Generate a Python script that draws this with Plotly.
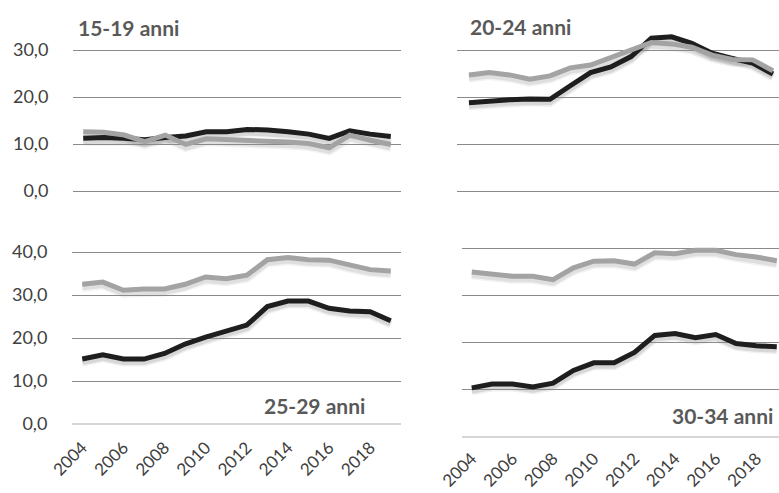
import plotly.graph_objects as go

W, H = 779, 493

years = list(range(2004, 2020))

# Valori (%) per classe d'età: serie scura e serie chiara
y15_19_dark = [11.2, 11.4, 11.2, 10.9, 11.4, 11.7, 12.6, 12.6, 13.1, 13.0, 12.6, 12.1, 11.2, 12.8, 12.1, 11.6]
y15_19_light = [12.6, 12.5, 11.9, 10.5, 11.9, 9.9, 11.1, 11.0, 10.8, 10.6, 10.4, 10.1, 9.2, 11.9, 10.8, 9.9]

y20_24_dark = [18.8, 19.2, 19.4, 19.6, 19.5, 22.4, 25.2, 26.4, 28.6, 32.5, 32.8, 31.4, 29.3, 28.2, 27.2, 24.9]
y20_24_light = [24.7, 25.2, 24.7, 23.8, 24.5, 26.2, 26.8, 28.4, 30.0, 31.6, 31.3, 30.6, 28.9, 28.0, 27.9, 25.6]

y25_29_dark = [15.1, 16.1, 15.1, 15.1, 16.4, 18.6, 20.2, 21.5, 23.0, 27.3, 28.6, 28.6, 26.9, 26.3, 26.1, 24.0]
y25_29_light = [32.5, 33.0, 31.1, 31.4, 31.4, 32.5, 34.2, 33.8, 34.6, 38.2, 38.7, 38.2, 38.1, 36.9, 35.9, 35.6]

y30_34_dark = [10.4, 11.2, 11.2, 10.6, 11.4, 14.1, 15.7, 15.7, 17.9, 21.5, 21.9, 21.0, 21.7, 19.8, 19.3, 19.1]
y30_34_light = [34.9, 34.4, 34.0, 34.0, 33.3, 35.8, 37.2, 37.3, 36.6, 39.0, 38.8, 39.5, 39.5, 38.6, 38.1, 37.3]

titles = ["15-19 anni", "20-24 anni", "25-29 anni", "30-34 anni"]

DARK = "#1e1e1e"
LIGHT = "#a3a3a3"
GRID = "#8a8a8a"
TXT = "#404040"
TITLE = "#595959"
FONT = "Lato, 'Open Sans', sans-serif"


def fx(px):
    return px / W


def fy(px):
    return 1 - px / H


# panel geometry in pixels: x0, x1, y of the top tick, y of zero, top tick value,
# headroom above the top tick (value units), x range, gap before the year labels
panels = [
    dict(dark=y15_19_dark, light=y15_19_light, x0=73, x1=401, yt=50, yb=191, ytop=30, extra=5,
         xr=[2003.5, 2019.5], labels_y=True, labels_x=False, xgap=6),
    dict(dark=y20_24_dark, light=y20_24_light, x0=457, x1=779, yt=50, yb=191, ytop=30, extra=5,
         xr=[2003.41, 2019.3], labels_y=False, labels_x=False, xgap=6),
    dict(dark=y25_29_dark, light=y25_29_light, x0=72, x1=401, yt=252, yb=424, ytop=40, extra=2,
         xr=[2003.5, 2019.5], labels_y=True, labels_x=True, xgap=6),
    dict(dark=y30_34_dark, light=y30_34_light, x0=462, x1=779, yt=248, yb=437, ytop=40, extra=2,
         xr=[2003.52, 2019.11], labels_y=False, labels_x=True, xgap=4),
]

fig = go.Figure()
layout = {}
SHADOW_DY = 3  # px

# shadow subplots first (axes 1-4), main subplots after (axes 5-8)
for i, p in enumerate(panels):
    pxu = (p["yb"] - p["yt"]) / p["ytop"]          # pixels per value unit
    top_px = p["yt"] - p["extra"] * pxu
    for kind in ("shadow", "main"):
        n = i + 1 if kind == "shadow" else i + 5
        xa = "xaxis" if n == 1 else f"xaxis{n}"
        ya = "yaxis" if n == 1 else f"yaxis{n}"
        xr_ = "x" if n == 1 else f"x{n}"
        yr_ = "y" if n == 1 else f"y{n}"
        dy = SHADOW_DY if kind == "shadow" else 0
        layout[xa] = dict(domain=[fx(p["x0"]), fx(p["x1"])], range=p["xr"], anchor=yr_,
                          showgrid=False, zeroline=False, showline=False, fixedrange=True,
                          automargin=False)
        layout[ya] = dict(domain=[fy(p["yb"] + dy), fy(top_px + dy)],
                          range=[0, p["ytop"] + p["extra"]], anchor=xr_, fixedrange=True,
                          automargin=False)
        if kind == "shadow":
            layout[xa].update(visible=False)
            layout[ya].update(visible=False)
            for vals, w, a in ((p["dark"], 9, 0.06), (p["dark"], 6, 0.10),
                               (p["light"], 9, 0.05), (p["light"], 6, 0.08)):
                fig.add_trace(go.Scatter(x=years, y=vals, xaxis=xr_, yaxis=yr_, mode="lines",
                                         line=dict(color=f"rgba(0,0,0,{a})", width=w),
                                         hoverinfo="skip", showlegend=False))
        else:
            bottom = i >= 2
            layout[ya].update(
                tickvals=list(range(0, p["ytop"] + 1, 10)), tickformat=".1f",
                showgrid=True, gridcolor=GRID, gridwidth=1, zeroline=True,
                zerolinecolor="#d6d6d6" if bottom else GRID,
                zerolinewidth=2 if bottom else 1,
                showticklabels=p["labels_y"], ticks="outside" if p["labels_y"] else "",
                ticklen=20, tickcolor="rgba(0,0,0,0)",
                tickfont=dict(family=FONT, size=18, color=TXT),
            )
            layout[xa].update(
                tick0=2004, dtick=2, tickangle=-45,
                showticklabels=p["labels_x"], ticks="outside" if p["labels_x"] else "",
                ticklen=p["xgap"], tickcolor="rgba(0,0,0,0)",
                tickfont=dict(family=FONT, size=17, color=TXT),
            )
            fig.add_trace(go.Scatter(x=years, y=p["dark"], xaxis=xr_, yaxis=yr_, mode="lines",
                                     line=dict(color=DARK, width=5), showlegend=False))
            fig.add_trace(go.Scatter(x=years, y=p["light"], xaxis=xr_, yaxis=yr_, mode="lines",
                                     line=dict(color=LIGHT, width=5), showlegend=False))

# panel titles
title_pos = [(76, 28), (468, 26), (262, 405), (670, 415)]
annotations = []
for t, (x, y) in zip(titles, title_pos):
    annotations.append(dict(text=f"<b>{t}</b>", x=fx(x), y=fy(y), xref="paper", yref="paper",
                            xanchor="left", yanchor="middle", showarrow=False,
                            font=dict(family=FONT, size=21, color=TITLE)))

fig.update_layout(
    width=W, height=H, margin=dict(l=0, r=0, t=0, b=0, autoexpand=False),
    paper_bgcolor="white", plot_bgcolor="rgba(0,0,0,0)",
    separators=",.", showlegend=False, annotations=annotations,
    **layout,
)

fig.write_html("out.html", config={"displayModeBar": False})
